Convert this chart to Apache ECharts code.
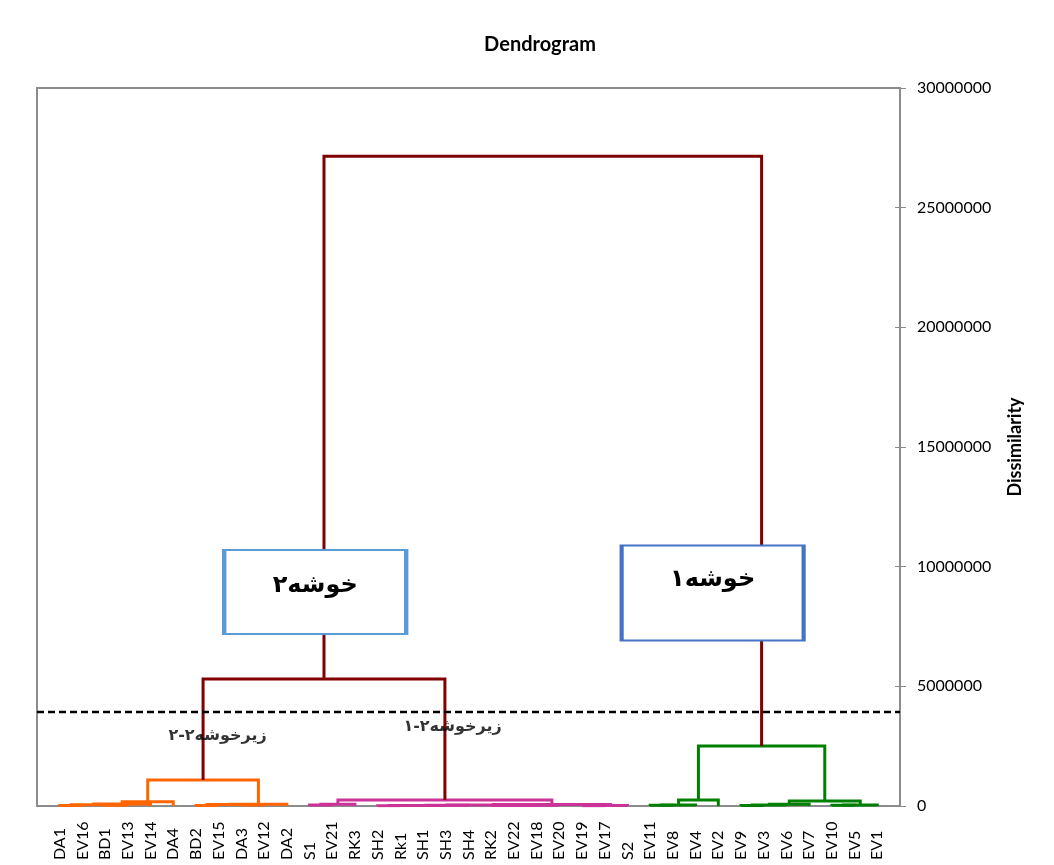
<!DOCTYPE html>
<html>
<head>
<meta charset="utf-8">
<script src="https://cdn.jsdelivr.net/npm/echarts@6/dist/echarts.min.js"></script>
<style>
html,body{margin:0;padding:0;background:#fff;}
#chart{width:1054px;height:865px;}
</style>
</head>
<body>
<div id="chart"></div>
<script>
// ---- data ----
const leafLabels = ['DA1','EV16','BD1','EV13','EV14','DA4','BD2','EV15','DA3','EV12','DA2',
  'S1','EV21','RK3','SH2','Rk1','SH1','SH3','SH4','RK2','EV22','EV18','EV20','EV19','EV17','S2',
  'EV11','EV8','EV4','EV2','EV9','EV3','EV6','EV7','EV10','EV5','EV1'];
// node ids: 0..36 = leaves, 37+k = merge k
const mergeLeft  = [0,2,37,39,40,6,8,42,44,41, 11,47,14,49,50,51,19,53,54,52,23,57,56,48, 26,61,62,30,64,65,34,67,66,63, 46,71];
const mergeRight = [1,3,38,4,5,7,9,43,10,45, 12,13,15,16,17,18,20,21,22,55,24,25,58,59, 27,28,29,31,32,33,35,36,68,69, 60,70];
const mergeHeight = [20000,30000,50000,80000,180000,20000,40000,60000,70000,1090000,
  40000,70000,15000,20000,25000,30000,20000,25000,35000,45000,15000,20000,60000,250000,
  30000,40000,250000,20000,40000,70000,30000,40000,210000,2510000,
  5310000,27150000];
const mergeGroup = ['o','o','o','o','o','o','o','o','o','o',
  'p','p','p','p','p','p','p','p','p','p','p','p','p','p',
  'g','g','g','g','g','g','g','g','g','g',
  't','t'];
const cutHeight = 3930000;
const clusterLabels = ['خوشه۲','خوشه۱'];
const subLabels = ['زیرخوشه۲-۲','زیرخوشه۲-۱'];
const yMax = 30000000, yStep = 5000000;

// ---- build ----
const groupColor = {o:'#FF6600', p:'#CC3399', g:'#008000', t:'#800000'};
const nLeaf = leafLabels.length;
const nodeX = [], nodeH = [];
for (let i = 0; i < nLeaf; i++) { nodeX[i] = i + 1; nodeH[i] = 0; }
const segs = [];
for (let k = 0; k < mergeLeft.length; k++) {
  const a = mergeLeft[k], b = mergeRight[k], h = mergeHeight[k];
  const id = nLeaf + k;
  nodeX[id] = (nodeX[a] + nodeX[b]) / 2;
  nodeH[id] = h;
  segs.push({
    coords: [[nodeX[a], nodeH[a]], [nodeX[a], h], [nodeX[b], h], [nodeX[b], nodeH[b]]],
    lineStyle: {color: groupColor[mergeGroup[k]]}
  });
}

const font = 'Lato, "Open Sans", sans-serif';
const arab = '"DejaVu Sans", sans-serif';
const chart = echarts.init(document.getElementById('chart'), null, {renderer:'canvas'});
chart.setOption({
  animation: false,
  backgroundColor: '#fff',
  title: {
    text: 'Dendrogram', left: 535, top: 30, textAlign: 'center',
    textStyle: {fontFamily: font, fontWeight: 'bold', fontSize: 20, color: '#000'}
  },
  grid: {left: 37, right: 154, top: 88, bottom: 59, show: true, borderColor: '#8c8c8c', borderWidth: 2},
  xAxis: {
    type: 'value', min: 0, max: nLeaf + 1, interval: 1,
    axisLine: {show: true, onZero: false, lineStyle: {color: '#8c8c8c', width: 2}},
    axisTick: {show: false}, splitLine: {show: false},
    axisLabel: {
      rotate: 90, align: 'left', margin: 54, fontFamily: font, fontSize: 16, color: '#000',
      formatter: v => leafLabels[v - 1] || ''
    }
  },
  yAxis: [{
    type: 'value', position: 'right', min: 0, max: yMax, interval: yStep,
    axisLine: {show: true, onZero: false, lineStyle: {color: '#8c8c8c', width: 2}},
    axisTick: {show: true, length: 6, lineStyle: {color: '#8c8c8c', width: 1}},
    splitLine: {show: false},
    axisLabel: {margin: 17, fontFamily: font, fontSize: 16, color: '#000', formatter: v => String(v)},
    name: 'Dissimilarity', nameLocation: 'middle', nameRotate: 90, nameGap: 106,
    nameTextStyle: {fontFamily: font, fontWeight: 'bold', fontSize: 18, color: '#000'}
  }, {
    type: 'value', position: 'right', offset: 0, min: 0, max: yMax, interval: yStep,
    axisLine: {show: false, onZero: false}, axisLabel: {show: false}, splitLine: {show: false},
    axisTick: {show: true, inside: true, length: 5, lineStyle: {color: '#8c8c8c', width: 1}}
  }],
  series: [{
    type: 'lines', coordinateSystem: 'cartesian2d', polyline: true,
    lineStyle: {width: 3, opacity: 1, join: 'miter'},
    data: segs, z: 3
  }, {
    type: 'line', symbol: 'none', z: 4,
    lineStyle: {color: '#000', width: 2.5, type: [7, 4]},
    data: [[0, cutHeight], [nLeaf + 1, cutHeight]]
  }, {
    type: 'scatter', symbol: 'rect', z: 5,
    data: [
      {value: [12.25, 8940000], name: clusterLabels[0], symbolSize: [182, 84],
       itemStyle: {color: '#fff', borderColor: '#5B9BD5', borderWidth: 3, opacity: 1},
       label: {offset: [0, -6]}},
      {value: [29.75, 8900000], name: clusterLabels[1], symbolSize: [182, 95],
       itemStyle: {color: '#fff', borderColor: '#4472C4', borderWidth: 3, opacity: 1},
       label: {offset: [0, -13]}}
    ],
    itemStyle: {opacity: 1},
    label: {show: true, position: 'inside', formatter: p => p.name,
      fontFamily: arab, fontWeight: 'bold', fontSize: 24, color: '#000'}
  }, {
    type: 'scatter', symbolSize: 0, z: 6,
    data: [
      {value: [7.95, 2920000], name: subLabels[0]},
      {value: [18.3, 3300000], name: subLabels[1]}
    ],
    label: {show: true, position: 'inside', formatter: p => p.name,
      fontFamily: arab, fontWeight: 'bold', fontSize: 16, color: '#000'}
  }]
});
</script>
</body>
</html>
